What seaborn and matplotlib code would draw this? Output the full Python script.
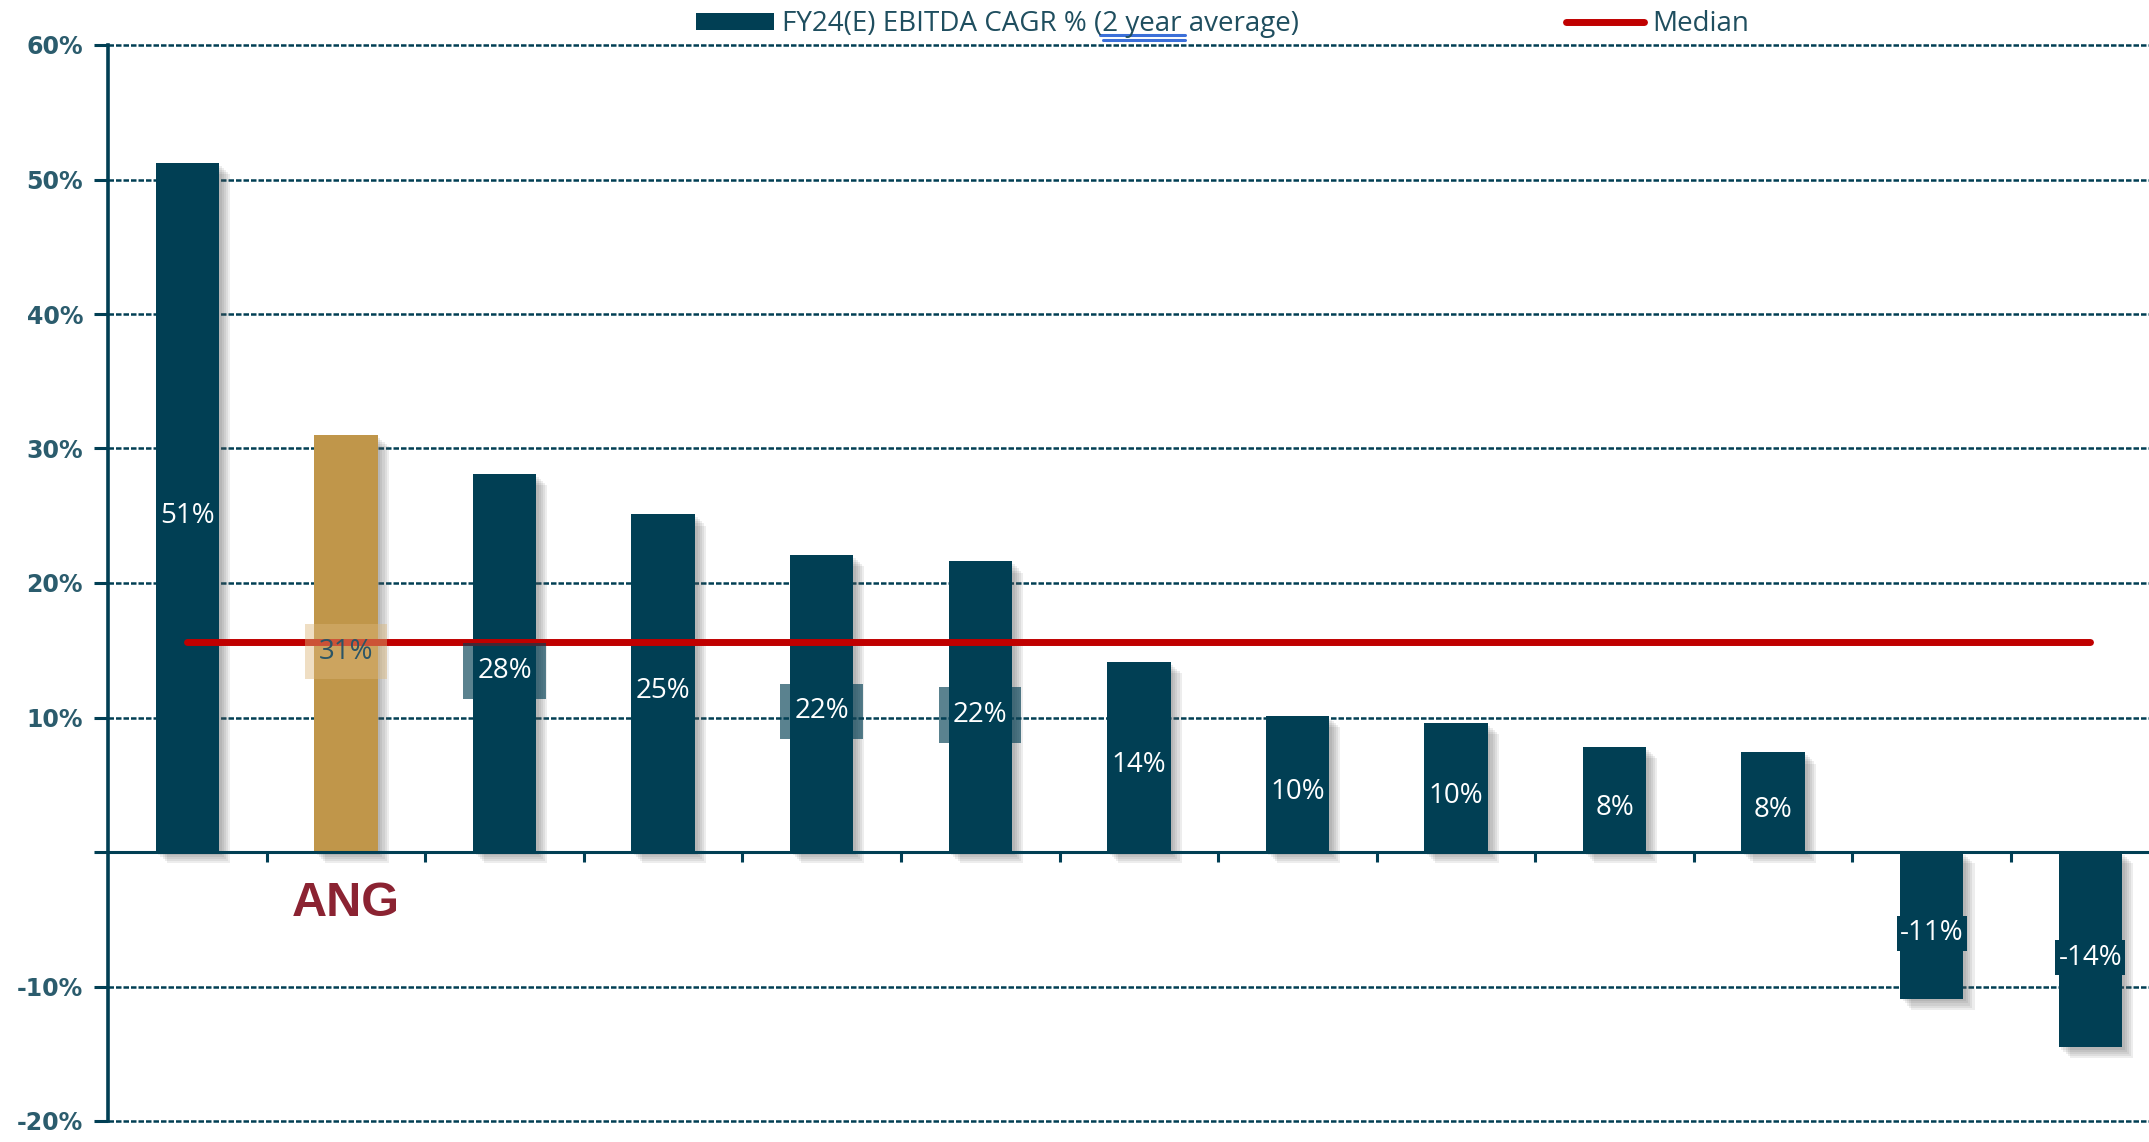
import matplotlib
matplotlib.use("Agg")
import matplotlib.pyplot as plt
import matplotlib.patheffects as pe
from matplotlib.patches import Patch
from matplotlib.lines import Line2D
import seaborn as sns
import pandas as pd

# ---- data ----
categories = ["C1", "ANG", "C3", "C4", "C5", "C6", "C7", "C8", "C9", "C10", "C11", "C12", "C13"]
tick_labels = ["", "ANG", "", "", "", "", "", "", "", "", "", "", ""]
values = [51.2, 31.0, 28.1, 25.1, 22.1, 21.6, 14.1, 10.1, 9.6, 7.8, 7.4, -10.9, -14.5]
value_labels = ["51%", "31%", "28%", "25%", "22%", "22%", "14%", "10%", "10%", "8%", "8%", "-11%", "-14%"]
median_value = 15.6
legend_bar = "FY24(E) EBITDA CAGR % (2 year average)"
legend_median = "Median"
yticks = [-20, -10, 0, 10, 20, 30, 40, 50, 60]
ytick_labels = ["-20%", "-10%", "", "10%", "20%", "30%", "40%", "50%", "60%"]

DARK = "#013f54"
GOLD = "#c0964a"
RED = "#c00000"
TXT = "#2b5c6d"

sns.set_theme(style="white")
plt.rcParams["font.family"] = ["Open Sans", "DejaVu Sans"]

fig = plt.figure(figsize=(21.49, 11.42), dpi=100)
ax = fig.add_axes([108 / 2149, 1 - 1121 / 1142, 1 - 108 / 2149, (1121 - 45) / 1142])

df = pd.DataFrame({"cat": categories, "val": values})
palette = {c: (GOLD if c == "ANG" else DARK) for c in categories}
sns.barplot(data=df, x="cat", y="val", hue="cat", palette=palette, width=0.4,
            legend=False, ax=ax, saturation=1, zorder=3)

shadow = [pe.SimplePatchShadow(offset=(o, -o), shadow_rgbFace="#555555", alpha=0.1)
          for o in (2, 3.5, 5, 6.5, 8)] + [pe.Normal()]
for p in ax.patches:
    p.set_edgecolor("none")
    p.set_path_effects(shadow)

# median line
sns.lineplot(x=[0, len(categories) - 1], y=[median_value, median_value], color=RED,
             linewidth=5, ax=ax, zorder=5, solid_capstyle="round")

# value labels
box_colors = [None, "#dcb77a", DARK, None, DARK, DARK, None, None, None,
              None, None, DARK, DARK]
box_alpha = [1, 0.45, 0.65, 1, 0.65, 0.65, 1, 1, 1, 1, 1, 1, 1]
box_pad = [0, 0.5, 0.5, 0, 0.5, 0.5, 0, 0, 0, 0, 0, 0.12, 0.12]
text_colors = ["white", "#2b5566"] + ["white"] * 11
for i, (v, lab) in enumerate(zip(values, value_labels)):
    kw = {}
    if box_colors[i] is not None:
        kw["bbox"] = dict(boxstyle=f"square,pad={box_pad[i]}", facecolor=box_colors[i],
                          edgecolor="none", alpha=box_alpha[i])
    ax.text(i, v / 2 - 0.6, lab, ha="center", va="center", fontsize=20,
            color=text_colors[i], zorder=6, **kw)

# spines first (moving a spine resets its ticks)
for s in ["top", "right"]:
    ax.spines[s].set_visible(False)
ax.spines["left"].set_color(DARK)
ax.spines["left"].set_linewidth(2.6)
ax.spines["bottom"].set_position(("data", 0))
ax.spines["bottom"].set_color(DARK)
ax.spines["bottom"].set_linewidth(2.2)
ax.spines["bottom"].set_zorder(4)

# axes styling
ax.set_ylim(-20, 60)
ax.set_xlim(-0.5, 12.37)
ax.set_yticks(yticks)
ax.set_yticklabels(ytick_labels)
ax.set_xticks(range(len(categories)))
ax.set_xticklabels(tick_labels)
ax.set_xticks([i + 0.5 for i in range(len(categories) - 1)], minor=True)
ax.set_xlabel("")
ax.set_ylabel("")

ax.tick_params(axis="x", which="major", length=0, pad=21, labelsize=35, labelcolor="#8b2332")
ax.tick_params(axis="x", which="minor", length=7, width=2.2, color=DARK, direction="out", bottom=True)
ax.tick_params(axis="y", length=10, width=2.2, color=DARK, direction="out", left=True, pad=8,
               labelsize=17, labelcolor=TXT)

for t in ax.get_xticklabels():
    t.set_fontweight("bold")
    t.set_fontfamily(["Liberation Sans", "DejaVu Sans"])
for t in ax.get_yticklabels():
    t.set_fontweight("bold")
    t.set_fontfamily(["DejaVu Sans"])

ax.yaxis.grid(True, color=DARK, linestyle=(0, (2.2, 0.8)), linewidth=1.8, zorder=0)
ax.set_axisbelow(True)
for gl, y in zip(ax.yaxis.get_gridlines(), yticks):
    gl.set_clip_on(False)
    if y == 0:
        gl.set_visible(False)

# legend
handles = [Patch(facecolor=DARK, edgecolor="none"),
           Line2D([0], [0], color=RED, linewidth=5, solid_capstyle="round")]
leg = fig.legend(handles, [legend_bar, legend_median], loc="upper left",
                 bbox_to_anchor=(695 / 2149, 1 - 9 / 1142), ncol=2, frameon=False,
                 fontsize=20, handlelength=2.8, handleheight=0.55, handletextpad=0.3,
                 columnspacing=9.6, borderpad=0.05, borderaxespad=0)
for t in leg.get_texts():
    t.set_color("#1f4e5f")

# small blue mark under legend text (artifact in the original)
fig.add_artist(Line2D([1100 / 2149, 1185 / 2149], [1 - 35 / 1142, 1 - 35 / 1142],
                      color="#3b6fd8", linewidth=2.2))
fig.add_artist(Line2D([1103 / 2149, 1185 / 2149], [1 - 40 / 1142, 1 - 40 / 1142],
                      color="#3b6fd8", linewidth=2.2))

fig.savefig("out.png", dpi=100)
